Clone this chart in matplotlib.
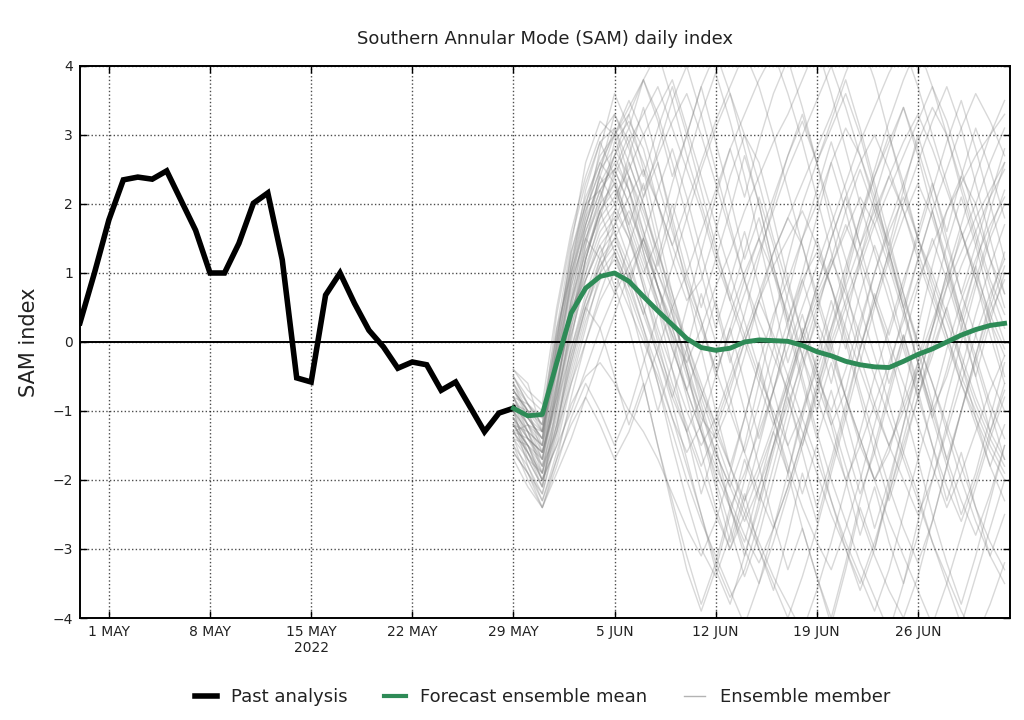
import matplotlib
matplotlib.use("Agg")
import matplotlib.pyplot as plt
from matplotlib.lines import Line2D
import pandas as pd

# ---------------- data ----------------
past_start = "2022-04-29"
past_values = [0.28, 1.0, 1.77, 2.35, 2.39, 2.36, 2.48, 2.05, 1.62, 1.0, 1.0, 1.43,
               2.01, 2.16, 1.19, -0.52, -0.58, 0.68, 1.0, 0.56, 0.17, -0.07, -0.38,
               -0.29, -0.33, -0.70, -0.58, -0.94, -1.30, -1.03, -0.96]

fc_start = "2022-05-29"
mean_values = [-0.96, -1.07, -1.05, -0.30, 0.42, 0.78, 0.95, 1.0, 0.88, 0.66, 0.45,
               0.25, 0.05, -0.08, -0.12, -0.09, 0.0, 0.03, 0.02, 0.01, -0.05, -0.14,
               -0.20, -0.28, -0.33, -0.36, -0.37, -0.28, -0.18, -0.10, 0.0, 0.10,
               0.18, 0.24, 0.27]

m01 = [-0.9,-1.2,-1.4,-0.2,0.8,1.6,2.2,2.6,2.2,1.5,0.8,0.2,-0.5,-1.1,-1.4,-0.9,-0.2,0.6,1.3,1.8,1.4,0.7,0.0,-0.8,-1.5,-2.0,-1.6,-0.8,0.2,1.1,1.9,2.4,2.0,1.2,0.5]
m02 = [-0.6,-1.0,-1.6,-0.8,0.3,1.2,2.0,2.9,3.2,2.8,2.0,1.2,0.6,0.9,1.6,2.4,3.0,2.6,1.8,0.9,0.1,-0.6,-1.2,-0.7,0.2,1.0,1.7,2.3,2.9,3.4,3.0,2.3,1.6,0.9,0.4]
m03 = [-1.2,-1.6,-2.0,-1.2,-0.2,0.6,1.1,1.4,0.9,0.2,-0.6,-1.5,-2.3,-3.0,-3.4,-2.8,-2.0,-1.2,-0.4,0.3,0.9,1.3,0.8,0.1,-0.7,-1.4,-2.1,-2.7,-3.2,-2.6,-1.8,-1.0,-0.3,0.4,0.9]
m04 = [-0.8,-0.9,-1.1,0.1,1.2,2.0,2.7,3.0,3.3,2.5,1.6,0.7,-0.1,-0.9,-1.6,-2.1,-1.5,-0.6,0.3,1.2,2.0,2.6,3.1,3.6,3.0,2.2,1.3,0.5,-0.3,-1.0,-1.7,-2.3,-2.8,-2.2,-1.5]
m05 = [-1.5,-1.8,-2.3,-1.6,-0.9,-0.5,-0.3,-0.6,-1.0,-1.3,-1.7,-2.2,-2.7,-3.1,-2.6,-1.9,-1.1,-0.3,0.4,0.9,1.5,2.0,2.6,3.1,2.7,2.1,1.4,0.7,0.0,-0.6,-1.3,-2.0,-2.6,-3.1,-3.5]
m06 = [-1.0,-1.3,-1.5,0.0,1.3,2.1,2.6,2.3,1.6,1.0,1.5,2.3,3.0,3.7,4.2,3.6,2.8,2.0,1.1,0.3,-0.5,-1.3,-2.0,-2.6,-3.2,-3.7,-4.2,-3.5,-2.6,-1.7,-0.8,0.0,0.8,1.5,2.0]
m07 = [-0.7,-1.1,-1.3,-0.4,0.6,1.3,1.8,2.1,2.5,3.0,3.4,3.8,3.1,2.4,1.7,1.0,0.3,-0.4,-1.1,-1.8,-2.4,-2.9,-3.3,-2.7,-2.0,-1.2,-0.4,0.4,1.2,1.9,2.5,3.1,3.6,3.2,2.7]
m08 = [-1.3,-1.7,-2.1,-1.0,0.1,0.9,1.5,1.8,1.2,0.5,-0.2,-0.9,-1.7,-2.5,-3.3,-3.8,-3.1,-2.3,-1.5,-0.7,0.0,0.6,1.1,1.6,2.1,1.7,1.1,0.4,-0.3,-1.0,-0.5,0.2,0.9,1.6,2.2]
m09 = [-0.5,-0.8,-1.0,0.2,1.0,1.7,2.4,3.0,3.5,3.0,2.3,1.6,0.9,0.3,-0.4,-1.0,-1.6,-2.2,-2.7,-2.1,-1.4,-0.6,0.2,1.0,1.8,2.5,3.2,3.8,4.3,3.7,3.0,2.2,1.5,0.8,0.2]
m10 = [-1.1,-1.4,-1.8,-1.3,-0.6,0.0,0.6,1.0,0.5,0.0,-0.5,-1.1,-1.6,-1.2,-0.5,0.2,0.9,1.5,2.1,2.7,3.2,2.6,1.9,1.2,0.5,-0.2,-0.9,-1.6,-2.2,-2.9,-3.5,-4.1,-3.4,-2.7,-2.0]
m11 = [-0.9,-1.0,-1.2,0.4,1.5,2.3,2.9,3.1,2.6,2.0,1.3,0.6,-0.1,-0.8,-1.4,-2.0,-2.5,-3.0,-3.5,-4.0,-3.4,-2.7,-1.9,-1.1,-0.3,0.5,1.2,1.8,2.3,1.8,1.1,0.4,-0.2,-0.9,-1.4]
m12 = [-1.4,-1.9,-2.4,-1.8,-1.1,-0.6,-1.0,-1.5,-1.0,-0.3,0.4,1.1,1.8,2.5,3.1,3.6,3.0,2.3,1.5,0.8,0.1,-0.5,-1.0,-0.4,0.3,1.0,1.6,2.1,1.5,0.8,0.1,-0.6,-1.2,-1.8,-2.3]
m13 = [-0.8,-1.1,-1.4,-0.3,0.7,1.5,2.0,2.3,1.8,1.2,0.6,0.1,-0.3,0.2,0.8,1.3,1.9,2.4,2.9,3.3,3.8,4.3,3.6,2.8,2.0,1.3,0.6,-0.1,-0.8,-1.5,-2.1,-2.6,-2.0,-1.3,-0.7]
m14 = [-1.6,-1.9,-2.2,-1.4,-0.5,0.3,0.9,1.2,0.7,0.1,-0.6,-1.3,-2.0,-2.6,-3.1,-3.6,-4.1,-3.5,-2.7,-1.9,-1.1,-0.3,0.4,1.1,1.8,2.4,2.9,3.4,2.8,2.1,1.4,0.7,0.1,-0.5,-1.0]
m15 = [-0.4,-0.7,-0.9,0.5,1.6,2.4,3.0,3.3,2.8,2.2,2.7,3.2,3.6,3.0,2.3,1.6,0.9,0.3,-0.2,-0.7,-1.3,-1.9,-2.5,-3.0,-3.5,-2.9,-2.2,-1.5,-0.8,-0.1,0.5,1.1,1.6,2.1,2.5]
m16 = [-1.2,-1.5,-1.9,-0.9,0.2,1.0,1.6,1.9,1.5,0.9,0.2,-0.4,-1.0,-1.5,-1.1,-0.5,0.1,0.7,1.3,1.8,2.3,2.8,3.3,3.9,4.4,3.8,3.0,2.2,1.5,0.9,0.3,-0.3,-0.9,-1.4,-1.8]
m17 = [-0.7,-1.0,-1.1,0.1,1.1,1.9,2.5,2.8,2.4,1.9,1.3,0.7,0.0,-0.7,-1.3,-1.8,-2.3,-1.8,-1.2,-0.5,0.2,-0.4,-1.1,-1.8,-2.5,-3.1,-3.6,-4.0,-3.4,-2.6,-1.8,-1.0,-0.2,0.5,1.1]
m18 = [-1.0,-1.4,-1.7,-0.7,0.4,1.2,1.9,2.4,2.9,3.3,3.7,3.1,2.5,1.9,1.2,0.6,0.0,-0.6,-1.2,-0.6,0.1,0.8,1.5,2.1,2.6,3.0,2.5,1.9,1.2,0.6,0.0,-0.6,-1.1,-1.6,-2.0]
m19 = [-1.3,-1.6,-2.0,-1.5,-1.0,-0.4,0.2,0.7,1.1,1.5,1.0,0.4,-0.3,-1.0,-1.7,-2.4,-3.0,-3.5,-2.9,-2.2,-1.5,-0.8,-0.1,0.5,1.1,1.7,2.2,2.7,3.2,3.7,3.2,2.5,1.8,1.2,0.7]
m20 = [-0.6,-0.9,-1.2,-0.1,1.0,1.8,2.3,2.5,2.0,1.4,0.8,0.3,-0.2,-0.7,-1.2,-0.6,0.0,0.6,1.1,1.5,1.9,1.4,0.8,0.2,-0.4,-1.0,-1.5,-1.0,-0.4,0.2,0.8,1.3,1.8,2.2,2.6]
m21 = [-1.1,-1.5,-1.8,-1.0,-0.1,0.7,1.3,1.6,1.1,0.5,-0.1,-0.7,-1.3,-1.9,-2.5,-3.0,-2.5,-1.9,-1.3,-0.6,0.1,0.7,1.2,0.7,0.1,-0.5,-1.1,-1.7,-2.3,-2.9,-3.4,-3.9,-4.3,-3.8,-3.2]
m22 = [-0.9,-1.2,-1.6,-0.5,0.6,1.4,2.1,2.7,3.1,2.6,2.0,1.4,2.0,2.6,3.2,3.7,4.2,3.7,3.0,2.2,1.4,0.6,-0.1,-0.8,-1.4,-2.0,-1.5,-0.9,-0.3,0.3,0.9,1.5,2.0,2.6,3.1]
m23 = [-1.4,-1.7,-2.1,-1.2,-0.3,0.5,1.0,1.3,0.8,0.2,-0.4,-1.1,-1.8,-2.5,-3.2,-3.7,-3.3,-2.6,-1.8,-1.0,-0.2,0.5,1.1,1.7,1.2,0.6,0.0,-0.6,-1.2,-1.8,-2.4,-1.9,-1.3,-0.7,-0.2]
m24 = [-0.5,-0.9,-1.3,-0.2,0.9,1.7,2.3,2.7,2.2,1.6,1.0,0.5,1.0,1.6,2.2,2.8,3.3,3.8,4.2,3.6,2.9,2.1,1.3,0.5,-0.2,-0.9,-1.5,-2.0,-2.5,-2.0,-1.3,-0.6,0.1,0.7,1.2]
m25 = [-1.0,-1.3,-1.5,-0.6,0.4,1.1,1.7,2.0,1.5,0.8,0.1,-0.6,-1.2,-1.8,-1.3,-0.7,0.0,0.6,0.1,-0.5,-1.1,-1.7,-2.3,-2.9,-3.4,-3.9,-3.3,-2.5,-1.7,-0.9,-0.1,0.6,1.2,1.7,2.1]
m26 = [-1.2,-1.5,-1.7,-0.8,0.1,0.9,1.4,1.7,2.1,2.5,2.0,1.4,0.8,0.2,-0.4,0.1,0.7,1.3,1.9,2.5,3.0,3.5,4.0,3.4,2.7,2.0,1.3,0.6,0.0,-0.6,-1.2,-1.8,-2.4,-2.9,-3.3]
m27 = [-0.8,-1.2,-1.5,-0.3,0.8,1.6,2.2,2.5,2.0,1.3,0.6,-0.1,-0.7,-1.3,-1.8,-2.3,-2.8,-3.2,-2.7,-2.1,-1.4,-0.7,0.0,0.6,1.2,1.8,2.4,2.9,3.3,2.8,2.2,1.6,1.0,0.4,-0.1]
m28 = [-1.5,-2.0,-2.4,-1.7,-1.2,-0.8,-1.2,-1.7,-1.3,-0.7,-0.1,0.5,0.0,-0.6,-1.2,-1.8,-2.4,-2.9,-3.4,-3.8,-4.2,-3.6,-2.9,-2.1,-1.3,-0.5,0.2,0.9,1.5,1.0,0.4,-0.2,-0.8,-1.3,-1.7]
m29 = [-0.7,-1.0,-1.3,0.0,1.1,2.0,2.6,3.0,3.4,3.8,4.2,3.5,2.7,2.0,1.3,0.7,0.1,-0.5,-1.0,-1.5,-1.0,-0.4,0.2,0.8,1.4,1.9,2.4,1.9,1.3,0.7,0.1,-0.5,-1.0,-1.5,-1.9]
m30 = [-1.1,-1.4,-1.6,-0.9,-0.1,0.6,1.2,1.5,1.0,0.4,-0.2,-0.8,-1.3,-0.8,-0.2,0.4,1.0,1.5,1.0,0.4,-0.2,-0.8,-1.4,-2.0,-1.5,-0.9,-0.3,0.3,0.9,1.4,1.9,2.3,2.7,3.0,3.3]
m31 = [-0.9,-1.3,-1.7,-0.6,0.5,1.3,1.9,2.2,1.7,1.1,0.5,-0.1,-0.7,-1.3,-1.9,-2.4,-1.9,-1.3,-0.7,-0.1,0.5,1.1,1.7,2.3,2.9,3.4,3.9,4.3,3.7,3.0,2.3,1.6,0.9,0.3,-0.2]
m32 = [-1.3,-1.6,-1.9,-1.1,-0.2,0.5,1.1,1.5,1.9,1.4,0.8,0.2,-0.4,-1.0,-1.6,-2.1,-2.6,-2.1,-1.5,-0.9,-0.3,0.3,-0.2,-0.8,-1.4,-2.0,-2.6,-3.1,-3.6,-4.1,-3.5,-2.8,-2.1,-1.4,-0.8]
m33 = [-1.0,-1.6,-2.1,-0.9,0.3,1.4,2.5,3.3,2.9,2.1,2.6,1.8,1.0,0.3,-0.5,0.2,-0.6,-1.4,-0.7,0.1,0.9,0.2,-0.6,0.3,1.2,2.0,1.4,2.2,3.0,2.3,1.5,0.7,1.4,2.1,2.8]
m34 = [-0.8,-1.3,-1.9,-1.2,-0.3,0.5,0.2,-0.5,-1.2,-0.6,-1.5,-2.3,-3.1,-3.8,-3.2,-2.4,-2.9,-2.1,-1.3,-1.9,-1.0,-0.2,0.6,-0.1,0.7,1.4,0.8,0.0,-0.8,-0.2,0.5,-0.3,-1.1,-1.8,-1.2]
m35 = [-1.3,-1.2,-1.7,-0.4,0.9,1.8,2.8,3.6,3.1,3.8,3.2,2.4,3.0,3.7,2.9,2.1,1.2,1.8,1.0,0.2,-0.6,-1.4,-0.7,-1.5,-2.2,-1.6,-0.8,0.0,0.8,1.5,0.9,0.2,-0.5,0.3,1.0]
m36 = [-0.4,-0.6,-1.3,-0.1,1.1,2.2,2.9,2.4,1.7,2.3,1.4,0.5,-0.4,-1.3,-2.1,-2.9,-2.2,-3.0,-3.6,-2.8,-1.9,-2.6,-1.8,-1.0,-0.1,0.7,0.1,0.8,1.6,2.3,1.6,2.4,3.1,2.5,1.8]
m37 = [-1.7,-2.1,-2.4,-1.9,-1.4,-0.8,-0.2,0.4,1.0,0.4,1.2,2.0,1.3,0.5,1.2,1.9,2.7,2.0,1.1,0.3,1.0,1.8,2.6,1.9,1.1,0.2,-0.6,0.1,-0.7,-1.5,-2.3,-1.6,-2.4,-3.1,-2.5]
m38 = [-0.9,-1.4,-1.6,-0.7,0.6,1.7,2.4,2.0,2.7,3.4,2.6,1.7,0.8,-0.1,-1.0,-1.8,-1.1,-0.3,-1.1,-1.9,-2.7,-3.4,-4.1,-3.3,-2.4,-3.0,-2.1,-1.2,-0.3,0.6,1.4,2.1,1.4,0.6,1.3]
m39 = [-1.1,-1.8,-2.2,-1.3,0.0,1.2,1.9,1.3,0.6,-0.2,-1.0,-0.3,0.5,1.3,2.1,2.8,2.1,2.9,3.6,4.1,3.4,2.6,1.7,0.8,-0.1,0.6,1.3,0.5,-0.3,-1.1,-0.4,0.4,1.1,0.3,-0.5]
m40 = [-0.6,-1.1,-1.4,0.2,1.4,2.6,3.2,3.0,2.2,1.3,0.5,-0.4,-1.3,-2.2,-1.5,-2.4,-3.1,-2.4,-1.6,-0.8,-1.5,-0.7,0.1,0.9,1.7,2.4,3.0,2.3,1.5,2.2,2.9,3.5,2.8,2.0,1.2]
m41 = [-1.4,-1.5,-2.0,-1.5,-0.6,0.2,1.0,1.7,2.4,1.8,1.1,1.8,2.6,3.3,3.9,3.2,2.4,1.5,0.6,-0.3,0.4,-0.4,-1.2,-2.0,-2.8,-2.1,-2.9,-3.5,-2.8,-2.0,-1.2,-0.4,0.4,1.1,1.7]
m42 = [-0.7,-1.0,-1.5,-0.4,0.5,0.9,1.4,0.8,0.2,-0.6,-1.5,-2.4,-3.3,-3.9,-3.3,-2.5,-1.7,-2.3,-1.5,-0.7,0.1,0.8,1.5,2.1,1.4,2.1,2.8,3.4,2.7,1.9,1.1,0.3,-0.5,-1.3,-0.6]
m43 = [-1.2,-1.3,-1.8,-0.6,0.4,1.0,1.8,2.5,3.0,2.4,3.1,3.7,3.0,2.2,1.4,0.6,1.3,2.1,1.4,0.6,-0.2,-1.0,-0.3,-1.1,-1.9,-2.7,-2.0,-1.2,-0.4,-1.1,-1.8,-2.5,-1.9,-1.1,-0.3]
m44 = [-0.5,-0.9,-1.2,0.0,1.3,2.0,2.2,1.6,0.9,1.5,0.8,0.1,-0.7,-0.1,0.6,-0.2,-1.0,-1.8,-2.6,-3.3,-2.7,-3.4,-4.0,-3.2,-2.3,-1.5,-0.7,0.1,-0.6,0.2,1.0,1.7,2.4,3.0,3.5]
m45 = [-1.6,-1.9,-2.3,-1.7,-0.8,0.0,0.7,1.3,0.8,1.5,2.2,2.8,2.1,1.3,0.5,-0.3,0.4,1.2,2.0,2.7,3.3,2.6,3.2,3.8,3.1,2.3,1.5,0.7,-0.1,-0.9,-1.7,-1.0,-0.2,0.6,0.0]
m46 = [-0.8,-1.2,-1.3,-0.2,0.9,1.5,1.2,1.9,2.6,2.0,1.2,0.4,-0.4,-1.2,-2.0,-2.7,-3.4,-2.8,-2.0,-1.2,-0.4,0.4,1.2,1.9,2.5,1.9,1.2,0.5,1.2,1.9,1.2,0.4,-0.3,-1.0,-1.7]
m47 = [-1.0,-1.7,-1.9,-0.7,0.5,1.5,2.1,2.7,3.3,3.8,3.3,2.6,1.8,1.0,0.2,0.9,1.6,0.8,0.0,-0.8,-1.6,-2.4,-1.7,-0.9,-0.1,0.6,-0.1,-0.9,-1.7,-2.5,-3.2,-3.8,-3.1,-2.3,-1.5]
m48 = [-1.3,-1.4,-1.6,-0.8,0.2,1.2,1.9,2.3,1.6,0.8,0.0,-0.8,-0.1,0.7,0.0,-0.8,-1.6,-0.9,-0.1,0.7,1.5,2.2,2.9,2.2,1.4,0.6,1.3,2.0,2.6,3.2,3.7,3.1,2.3,1.5,0.7]
m49 = [-0.9,-1.1,-1.4,-0.1,1.0,1.9,2.5,3.1,2.4,1.6,0.8,0.0,-0.8,-1.6,-2.4,-3.0,-2.3,-1.5,-0.7,0.1,0.8,1.5,0.8,0.0,-0.8,-1.6,-2.3,-1.6,-0.8,0.0,0.8,1.6,0.9,0.1,-0.6]
m50 = [-1.2,-1.5,-2.0,-1.3,-0.4,0.4,1.2,0.7,1.4,2.1,2.8,3.5,4.0,3.3,2.5,1.7,0.9,0.1,-0.7,-1.5,-2.2,-1.5,-2.3,-3.0,-3.6,-3.0,-2.2,-1.4,-0.6,0.2,1.0,0.3,1.1,1.9,2.6]
members = [m01, m02, m03, m04, m05, m06, m07, m08, m09, m10, m11, m12, m13, m14, m15, m16, m17,
           m18, m19, m20, m21, m22, m23, m24, m25, m26, m27, m28, m29, m30, m31, m32, m33, m34,
           m35, m36, m37, m38, m39, m40, m41, m42, m43, m44, m45, m46, m47, m48, m49, m50]

tick_dates = ["2022-05-01", "2022-05-08", "2022-05-15", "2022-05-22", "2022-05-29",
              "2022-06-05", "2022-06-12", "2022-06-19", "2022-06-26"]
tick_labels = ["1 MAY", "8 MAY", "15 MAY\n2022", "22 MAY", "29 MAY",
               "5 JUN", "12 JUN", "19 JUN", "26 JUN"]
y_ticks = [-4, -3, -2, -1, 0, 1, 2, 3, 4]

title = "Southern Annular Mode (SAM) daily index"
ylabel = "SAM index"
legend_labels = ["Past analysis", "Forecast ensemble mean", "Ensemble member"]

# ---------------- plot ----------------
plt.rcParams['font.family'] = ['DejaVu Sans']
fig = plt.figure(figsize=(10.24, 7.2), dpi=100)
ax = fig.add_axes([80/1024, 1-618/720, (1010-80)/1024, (618-66)/720])

past_dates = pd.date_range(past_start, periods=len(past_values), freq="D")
fc_dates = pd.date_range(fc_start, periods=len(mean_values), freq="D")

member_color = (0.5, 0.5, 0.5)
for m in members:
    md = pd.date_range(fc_start, periods=len(m), freq="D")
    ax.plot(md, m, color=member_color, alpha=0.3, lw=1.0, zorder=2)

ax.axhline(0, color="black", lw=1.4, zorder=3)
ax.plot(past_dates, past_values, color="black", lw=4, zorder=5, solid_joinstyle="miter")
ax.plot(fc_dates, mean_values, color="#2e8b57", lw=3.5, zorder=6)

ax.set_ylim(-4, 4)
ax.set_xlim(pd.Timestamp("2022-04-29"), pd.Timestamp("2022-07-02 09:00"))
ax.set_yticks(y_ticks)
ax.set_yticklabels([("\u2212" + str(abs(v))) if v < 0 else str(v) for v in y_ticks])
ax.set_xticks(pd.to_datetime(tick_dates))
ax.set_xticklabels(tick_labels)
ax.tick_params(direction="in", top=True, right=True, length=5, width=1,
               labelsize=10, colors="black", pad=5)
for lab in ax.get_xticklabels() + ax.get_yticklabels():
    lab.set_color("#222222")
ax.grid(True, linestyle=":", color="black", lw=1.0, alpha=0.7)
for s in ax.spines.values():
    s.set_linewidth(1.4)

ax.set_title(title, fontsize=13, pad=16, color="#222222")
ax.set_ylabel(ylabel, fontsize=15, labelpad=10, color="#222222")

handles = [Line2D([], [], color="black", lw=4),
           Line2D([], [], color="#2e8b57", lw=3),
           Line2D([], [], color=(0.7, 0.7, 0.7), lw=1)]
fig.legend(handles, legend_labels, loc="center", bbox_to_anchor=(0.53, 1-697/720),
           ncol=3, frameon=False, fontsize=13, handlelength=1.2, columnspacing=2.0,
           handletextpad=0.8, labelcolor="#222222")

fig.savefig("out.png", dpi=100)
